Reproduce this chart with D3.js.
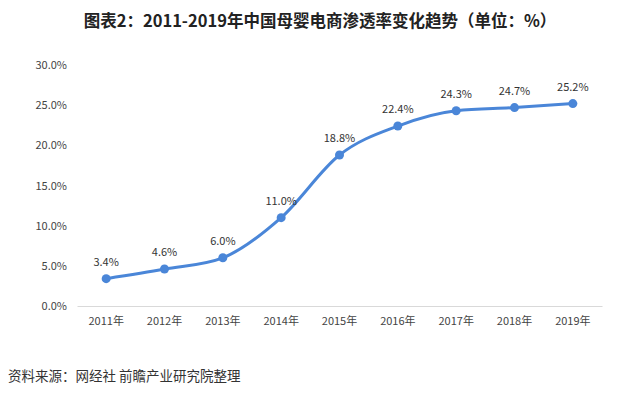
<!DOCTYPE html>
<html><head><meta charset="utf-8">
<script src="https://cdn.jsdelivr.net/npm/d3@7"></script>
<style>body{margin:0;background:#fff}svg{display:block}</style>
</head><body>
<script>
const years = ["2011年","2012年","2013年","2014年","2015年","2016年","2017年","2018年","2019年"];
const rates = [3.4, 4.6, 6.0, 11.0, 18.8, 22.4, 24.3, 24.7, 25.2];
const yTicks = [0, 5, 10, 15, 20, 25, 30];
const title = "图表2：2011-2019年中国母婴电商渗透率变化趋势（单位：%）";
const source = "资料来源：网经社 前瞻产业研究院整理";

const W = 640, H = 396;
const svg = d3.select("body").append("svg").attr("width", W).attr("height", H);
const font = "'Noto Sans CJK SC', 'Noto Sans', sans-serif";

const x = d3.scaleBand().domain(years).range([77, 602]);
const y = d3.scaleLinear().domain([0, 30]).range([306, 65]);

svg.append("text").attr("x", 320).attr("y", 27).attr("text-anchor", "middle")
  .attr("font-family", font).attr("font-weight", "bold").attr("font-size", 16.5)
  .attr("fill", "#222").text(title);

// y axis
const ya = svg.append("g").attr("transform", "translate(77,0)")
  .call(d3.axisLeft(y).tickValues(yTicks).tickFormat(d => d.toFixed(1) + "%").tickSize(0).tickPadding(10));
ya.select(".domain").remove();
ya.selectAll("text").attr("font-family", font).attr("font-size", 11).attr("fill", "#444");

// x axis
const xa = svg.append("g").attr("transform", "translate(0,306)")
  .call(d3.axisBottom(x).tickSize(0).tickPadding(11));
xa.select(".domain").attr("stroke", "#d9d9d9").attr("stroke-width", 1);
xa.selectAll("text").attr("font-family", font).attr("font-size", 11).attr("fill", "#444");

const cx = d => x(d) + x.bandwidth() / 2;
const data = years.map((yr, i) => ({yr, v: rates[i]}));

svg.append("path").datum(data)
  .attr("d", d3.line().x(d => cx(d.yr)).y(d => y(d.v)).curve(d3.curveMonotoneX))
  .attr("fill", "none").attr("stroke", "#4a86d8").attr("stroke-width", 3);

svg.selectAll("circle.pt").data(data).join("circle")
  .attr("cx", d => cx(d.yr)).attr("cy", d => y(d.v)).attr("r", 4.5).attr("fill", "#4a86d8");

svg.selectAll("text.lbl").data(data).join("text")
  .attr("x", d => cx(d.yr)).attr("y", d => y(d.v) - 13).attr("text-anchor", "middle")
  .attr("font-family", font).attr("font-size", 11).attr("fill", "#333")
  .text(d => d.v.toFixed(1) + "%");

svg.append("text").attr("x", 8).attr("y", 381)
  .attr("font-family", font).attr("font-size", 13.5).attr("fill", "#333").text(source);
</script>
</body></html>
